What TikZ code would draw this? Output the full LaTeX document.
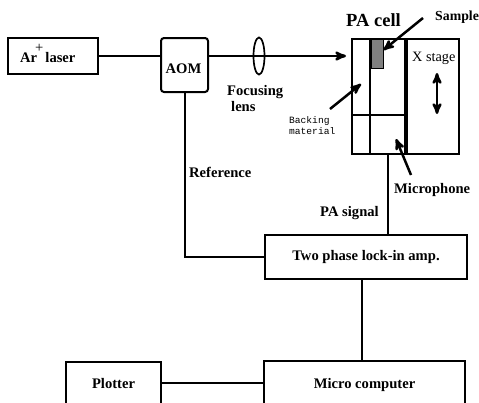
\documentclass[tikz,border=0pt]{standalone}
\usepackage{fontspec}
\setmainfont{Liberation Serif}
\setmonofont{Liberation Mono}
\usetikzlibrary{
    arrows,
    shapes.geometric,
    positioning,
}
\begin{document}
\begin{tikzpicture}[x=1pt,y=-1pt,>=stealth',auto]

    \tikzstyle{commonNode}=[font=\rmfamily\bfseries\fontsize{14.6}{16}\selectfont, align=center, line width=2pt, draw=black, inner sep=0pt]
    \tikzstyle{unit}=[commonNode, rectangle, fill=white]
    \tikzstyle{caption}=[font=\rmfamily\bfseries\fontsize{14.6}{16}\selectfont, align=left, inner sep=0pt, anchor=west]
    \tikzstyle{wire}=[line width=2pt]
    \tikzstyle{pointer}=[line width=2.5pt, ->]

    % Page
    \useasboundingbox (0,0) rectangle (479,402);
    \clip (0,0) rectangle (479,402);

    % Units along the top
    \node at (53,56) [unit, minimum width=90pt, minimum height=36pt] (Laser) {};
    \node at (20,62) [caption, anchor=base west] (LaserText) {Ar\hspace{-2pt}\raisebox{1.35ex}{\normalfont +}\hspace{2pt}laser};
    \node at (184.5,65) [unit, rounded corners=3pt, minimum width=47pt, minimum height=54pt] (AOM) {};
    \node at (183.5,69) [caption, anchor=center] (AOMText) {AOM};
    \node at (259,56) [ellipse, draw=black, line width=1.7pt, minimum width=11pt, minimum height=37pt, inner sep=0pt] (Lens) {};

    % PA cell
    \node at (405.5,96.5) [unit, minimum width=107pt, minimum height=115pt] (PAbox) {};
    \node at (377,54) [rectangle, draw=black, line width=1pt, fill=black!50, minimum width=12pt, minimum height=29pt, inner sep=0pt] (SampleBox) {};
    \coordinate (wallTop) at (406,39);
    \coordinate (wallBottom) at (406,154);
    \coordinate (backTop) at (370,39);
    \coordinate (backBottom) at (370,154);
    \coordinate (floorLeft) at (352,115);
    \coordinate (floorRight) at (406,115);
    \coordinate (sampleTail) at (423,18);
    \coordinate (backingTail) at (330,109);
    \coordinate (micTail) at (411,175);
    \coordinate (micTip) at (396,139);
    \coordinate (stageTop) at (437,73);
    \coordinate (stageBottom) at (437,114);
    \coordinate (backingTip) at (361,84);
    \draw [line width=4pt] (wallTop) -- (wallBottom);
    \draw [wire] (backTop) -- (backBottom);
    \draw [wire] (floorLeft) -- (floorRight);

    % Units along the bottom
    \node at (366,257) [unit, minimum width=202pt, minimum height=44pt] (LockIn) {Two phase lock-in amp.};
    \node at (364.5,385) [unit, minimum width=201pt, minimum height=48pt] (Computer) {Micro computer};
    \node at (113.5,383) [unit, minimum width=95pt, minimum height=42pt] (Plotter) {Plotter};

    % Connections
    \draw [wire] (Laser.east) -- (AOM.west |- Laser.east);
    \draw [wire] (AOM.east |- Lens.center) -- (Lens.center);
    \draw [pointer, shorten >=5pt] (Lens.center) -- (PAbox.west |- Lens.center);
    \draw [wire] (AOM.south) |- (LockIn.west);
    \draw [wire] (PAbox.south -| 388,0) -- (LockIn.north -| 388,0);
    \draw [wire] (LockIn.south -| 362,0) -- (Computer.north -| 362,0);
    \draw [wire] (Plotter.east) -- (Computer.west |- Plotter.east);

    % Pointers
    \draw [pointer] (sampleTail) -- (SampleBox.east |- 0,50);
    \draw [pointer] (backingTail) -- (backingTip);
    \draw [pointer] (micTail) -- (micTip);
    \draw [pointer, <->] (stageTop) -- (stageBottom);

    % Labels
    \node at (227,92) [caption] (FocusingText) {Focusing};
    \node at (231,107) [caption] (LensText) {lens};
    \node at (346,20) [caption, font=\rmfamily\bfseries\fontsize{18.5}{20}\selectfont] (CellText) {PA cell};
    \node at (435,17) [caption, font=\rmfamily\bfseries\fontsize{13.8}{16}\selectfont] (SampleText) {Sample};
    \node at (412,58) [caption, font=\rmfamily\fontsize{14.3}{16}\selectfont] (StageText) {X stage};
    \node at (289,125.5) [caption, font=\ttfamily\fontsize{9.6}{11}\selectfont] (BackingText) {Backing\\material};
    \node at (394,190) [caption] (MicText) {Microphone};
    \node at (189,172) [caption] (ReferenceText) {Reference};
    \node at (320,213) [caption] (SignalText) {PA signal};

\end{tikzpicture}
\end{document}
